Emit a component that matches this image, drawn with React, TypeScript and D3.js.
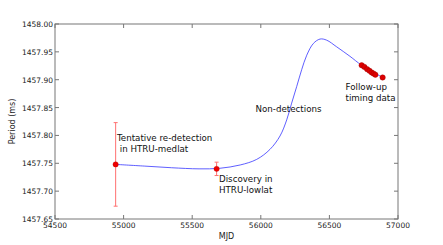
import * as d3 from 'd3';

const WIDTH = 443;
const HEIGHT = 245;
const M = { left: 55, right: 45, top: 24, bottom: 26 };

// timing model
const curveMjd = [54942, 55150, 55350, 55550, 55700, 55850, 55970, 56067, 56140, 56189, 56225, 56262, 56298, 56335, 56383, 56432, 56480, 56553, 56650, 56735, 56888];
const curvePeriod = [1457.748, 1457.745, 1457.742, 1457.740, 1457.741, 1457.747, 1457.757, 1457.775, 1457.799, 1457.828, 1457.858, 1457.888, 1457.918, 1457.944, 1457.965, 1457.973, 1457.971, 1457.959, 1457.942, 1457.926, 1457.904];

// detections with error bars
const detMjd = [54942, 55678];
const detPeriod = [1457.748, 1457.740];
const detErr = [0.075, 0.012];

// follow-up timing
const fuMjd = [56735, 56755, 56775, 56792, 56808, 56822, 56835, 56888];
const fuPeriod = [1457.926, 1457.923, 1457.919, 1457.916, 1457.913, 1457.911, 1457.909, 1457.904];

const xTicks = [54500, 55000, 55500, 56000, 56500, 57000];
const yTicks = [1457.65, 1457.7, 1457.75, 1457.8, 1457.85, 1457.9, 1457.95, 1458.0];

const FONT = 'DejaVu Sans, sans-serif';

export default function App() {
  const x = d3.scaleLinear().domain([54500, 57000]).range([M.left, WIDTH - M.right]);
  const y = d3.scaleLinear().domain([1457.65, 1458.0]).range([HEIGHT - M.bottom, M.top]);

  const line = d3
    .line<number>()
    .x((d, i) => x(curveMjd[i]))
    .y((d) => y(d))
    .curve(d3.curveCatmullRom.alpha(0.5));

  const x0 = x.range()[0];
  const x1 = x.range()[1];
  const y0 = y.range()[0];
  const y1 = y.range()[1];
  const tl = 4;

  return (
    <svg width={WIDTH} height={HEIGHT} style={{ position: 'fixed', left: 0, top: 0, background: '#fff' }}>
      <path d={line(curvePeriod) ?? ''} fill="none" stroke="#2a2aff" strokeOpacity={0.75} strokeWidth={1} />

      {detMjd.map((m, i) => {
        const cx = x(m);
        const lo = y(detPeriod[i] - detErr[i]);
        const hi = y(detPeriod[i] + detErr[i]);
        return (
          <g key={i} stroke="#ff7070" strokeWidth={1}>
            <line x1={cx} x2={cx} y1={lo} y2={hi} />
            <line x1={cx - 2} x2={cx + 2} y1={lo} y2={lo} />
            <line x1={cx - 2} x2={cx + 2} y1={hi} y2={hi} />
          </g>
        );
      })}
      {detMjd.map((m, i) => (
        <circle key={i} cx={x(m)} cy={y(detPeriod[i])} r={2.7} fill="#e00" stroke="#a00" strokeWidth={0.3} />
      ))}
      {fuMjd.map((m, i) => (
        <circle key={i} cx={x(m)} cy={y(fuPeriod[i])} r={2.7} fill="#d00" stroke="#900" strokeWidth={0.4} />
      ))}

      {/* frame */}
      <rect x={x0} y={y1} width={x1 - x0} height={y0 - y1} fill="none" stroke="#777" strokeWidth={1} />

      {xTicks.map((t) => (
        <g key={t}>
          <line x1={x(t)} x2={x(t)} y1={y0} y2={y0 - tl} stroke="#777" />
          <line x1={x(t)} x2={x(t)} y1={y1} y2={y1 + tl} stroke="#777" />
          <text x={x(t)} y={y0 + 9} fontSize={7.5} fontFamily={FONT} textAnchor="middle" fill="#222">
            {t}
          </text>
        </g>
      ))}
      {yTicks.map((t) => (
        <g key={t}>
          <line x1={x0} x2={x0 + tl} y1={y(t)} y2={y(t)} stroke="#777" />
          <line x1={x1} x2={x1 - tl} y1={y(t)} y2={y(t)} stroke="#777" />
          <text x={x0 - 2} y={y(t) + 3} fontSize={7.5} fontFamily={FONT} textAnchor="end" fill="#222">
            {t.toFixed(2)}
          </text>
        </g>
      ))}

      <text x={(x0 + x1) / 2} y={239} fontSize={8} fontFamily={FONT} textAnchor="middle" fill="#222">MJD</text>
      <text transform={`translate(15, ${(y0 + y1) / 2}) rotate(-90)`} fontSize={8} fontFamily={FONT} textAnchor="middle" fill="#222">
        Period (ms)
      </text>

      <g fontSize={8.7} fontFamily={FONT} fill="#111">
        <text x={117} y={141}>Tentative re-detection</text>
        <text x={117} y={152} xmlSpace="preserve">{' in HTRU-medlat'}</text>
        <text x={219} y={182}>Discovery in</text>
        <text x={219} y={193}>HTRU-lowlat</text>
        <text x={255.5} y={112}>Non-detections</text>
        <text x={345.5} y={90}>Follow-up</text>
        <text x={345.5} y={101}>timing data</text>
      </g>
    </svg>
  );
}
